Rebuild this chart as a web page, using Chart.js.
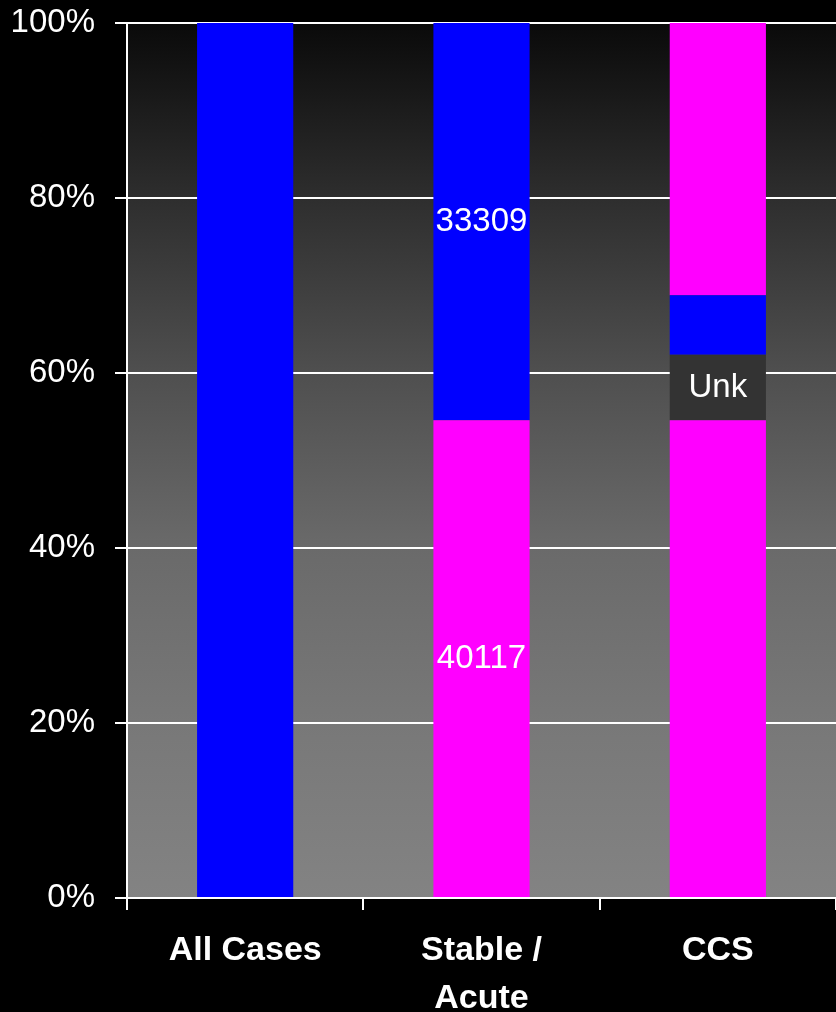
<!DOCTYPE html>
<html>
<head>
<meta charset="utf-8">
<script src="https://cdn.jsdelivr.net/npm/chart.js@4.4.1/dist/chart.umd.min.js"></script>
<style>
    html, body { margin: 0; padding: 0; background: #000; }
    canvas { display: block; }
</style>
</head>
<body>
<canvas id="shareChart" width="836" height="1012"></canvas>
<script>
// ===================================
// Data (percent of cases per bar)
// ===================================
const categories = ['All Cases', ['Stable /', 'Acute'], 'CCS'];
const yTicks = [0, 20, 40, 60, 80, 100];

const lowerMagenta = [0, 54.6, 54.6];
const unknown = [0, 0, 7.5];
const blue = [100, 45.4, 6.8];
const upperMagenta = [0, 0, 31.1];

const lowerMagentaLabels = ['', '40117', ''];
const unknownLabels = ['', '', 'Unk'];
const blueLabels = ['', '33309', ''];

const FONT = '"Liberation Sans", Arial, Helvetica, sans-serif';

// plot area background: dark at the top, grey at the bottom
const gradientBackground = {
    id: 'gradientBackground',
    beforeDraw(chart) {
        const { ctx, chartArea: a } = chart;
        ctx.save();
        ctx.fillStyle = '#000';
        ctx.fillRect(0, 0, chart.width, chart.height);
        const g = ctx.createLinearGradient(0, a.top, 0, a.bottom);
        g.addColorStop(0, '#0a0a0a');
        g.addColorStop(0.2, '#2e2e2e');
        g.addColorStop(0.4, '#4f4f4f');
        g.addColorStop(0.6, '#6a6a6a');
        g.addColorStop(0.8, '#787878');
        g.addColorStop(1, '#838383');
        ctx.fillStyle = g;
        ctx.fillRect(a.left, a.top, a.right - a.left, a.bottom - a.top);
        ctx.restore();
    }
};

// text labels in the middle of segments
const segmentLabels = {
    id: 'segmentLabels',
    afterDatasetsDraw(chart) {
        const { ctx } = chart;
        ctx.save();
        ctx.font = '33px ' + FONT;
        ctx.fillStyle = '#fff';
        ctx.textAlign = 'center';
        ctx.textBaseline = 'middle';
        chart.data.datasets.forEach((ds, i) => {
            if (!ds.segmentText) return;
            chart.getDatasetMeta(i).data.forEach((bar, j) => {
                const txt = ds.segmentText[j];
                if (!txt) return;
                ctx.fillText(txt, bar.x, (bar.y + bar.base) / 2);
            });
        });
        ctx.restore();
    }
};

const barOpts = { categoryPercentage: 1, barPercentage: 0.407, borderWidth: 0 };

new Chart(document.getElementById('shareChart'), {
    type: 'bar',
    data: {
        labels: categories,
        datasets: [
            Object.assign({ label: 'Lower', data: lowerMagenta, backgroundColor: '#ff00ff', segmentText: lowerMagentaLabels }, barOpts),
            Object.assign({ label: 'Unknown', data: unknown, backgroundColor: '#333333', segmentText: unknownLabels }, barOpts),
            Object.assign({ label: 'Blue', data: blue, backgroundColor: '#0000ff', segmentText: blueLabels }, barOpts),
            Object.assign({ label: 'Upper', data: upperMagenta, backgroundColor: '#ff00ff' }, barOpts)
        ]
    },
    options: {
        responsive: false,
        animation: false,
        layout: { padding: { top: 23, right: 0, left: 0, bottom: 0 } },
        plugins: {
            legend: { display: false },
            tooltip: { enabled: false }
        },
        scales: {
            x: {
                stacked: true,
                afterFit: s => { s.height = 114; s.paddingLeft = 0; s.paddingRight = 0; },
                grid: {
                    offset: true,
                    drawOnChartArea: false,
                    drawTicks: true,
                    tickLength: 12,
                    color: '#fff',
                    lineWidth: 2
                },
                border: { display: true, color: '#fff', width: 2 },
                ticks: {
                    color: '#fff',
                    padding: 17,
                    maxRotation: 0,
                    autoSkip: false,
                    font: { family: FONT, size: 34, weight: 'bold', lineHeight: 1.4 }
                }
            },
            y: {
                stacked: true,
                min: 0,
                max: 100,
                afterFit: s => { s.width = 127; s.paddingTop = 0; s.paddingBottom = 0; },
                afterBuildTicks: s => { s.ticks = yTicks.map(v => ({ value: v })); },
                grid: {
                    drawTicks: true,
                    tickLength: 12,
                    color: '#fff',
                    lineWidth: 2
                },
                border: { display: true, color: '#fff', width: 2 },
                ticks: {
                    color: '#fff',
                    padding: 20,
                    font: { family: FONT, size: 33 },
                    callback: v => v + '%'
                }
            }
        }
    },
    plugins: [gradientBackground, segmentLabels]
});
</script>
</body>
</html>
